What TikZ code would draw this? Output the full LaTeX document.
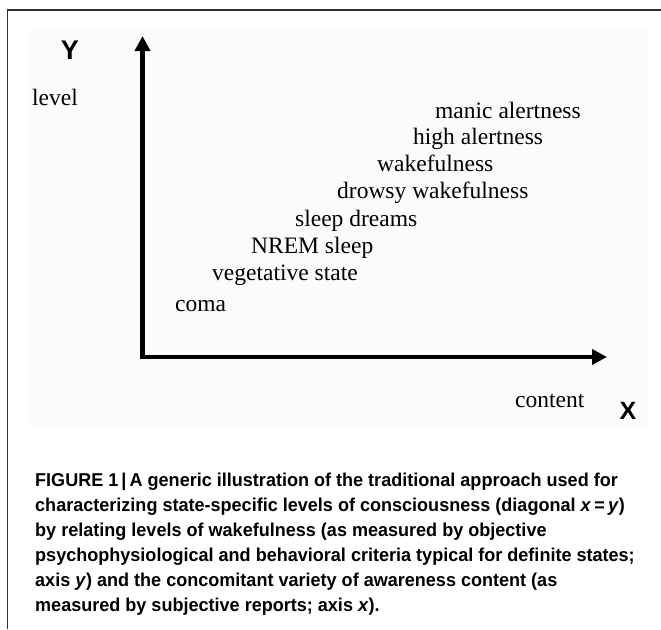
\documentclass[tikz,border=0pt]{standalone}
\usepackage{fontspec}
\setmainfont{Liberation Serif}
\newfontfamily\axfont{Liberation Sans}
\newfontfamily\capfont[FakeStretch=0.97]{Liberation Sans}
\usetikzlibrary{arrows.meta}
\begin{document}
\begin{tikzpicture}[x=1pt,y=-1pt,
  lbl/.style={anchor=base west,inner sep=0pt,font=\fontsize{23.5}{26}\selectfont},
  axlbl/.style={anchor=center,inner sep=0pt,font=\axfont\bfseries\fontsize{27}{30}\selectfont},
  capline/.style={anchor=base west,inner sep=0pt,font=\capfont\bfseries\fontsize{18.6}{20}\selectfont},
  axis/.style={line width=4.5pt,{Triangle[length=15pt,width=15pt]}-{Triangle[length=15pt,width=15pt]}}]
\useasboundingbox (0,0) rectangle (661,629);
% faint plot background
\fill[color={rgb,255:red,251;green,251;blue,251}] (27,30) rectangle (648,426);
% frame
\draw[line width=1.3pt,color={rgb,255:red,50;green,50;blue,50}] (7.5,629) -- (7.5,10) -- (661,10);
% axes
\coordinate (origin) at (142.5,357);
\coordinate (ytip) at (142.5,36);
\coordinate (xtip) at (607,357);
\draw[axis] (ytip) -- (origin) -- (xtip);
% axis labels
\node[axlbl] (Y) at (70,50) {Y};
\node[lbl] (level) at (32,105) {level};
\node[lbl] (content) at (515,407) {content};
\node[axlbl,font=\axfont\bfseries\fontsize{25}{28}\selectfont] (X) at (628,411) {X};
% states
\node[lbl] (manic) at (435,118) {manic alertness};
\node[lbl] (high) at (413,144) {high alertness};
\node[lbl] (wake) at (377,171) {wakefulness};
\node[lbl] (drowsy) at (337,198) {drowsy wakefulness};
\node[lbl] (dreams) at (295,226) {sleep dreams};
\node[lbl] (nrem) at (251,253) {NREM sleep};
\node[lbl] (veg) at (212,280) {vegetative state};
\node[lbl] (coma) at (175,311) {coma};
% caption
\node[capline] (c1) at (35,486) {FIGURE 1\,|\,A generic illustration of the traditional approach used for};
\node[capline] (c2) at (35,511) {characterizing state-specific levels of consciousness (diagonal \textit{x}\,=\,\textit{y})};
\node[capline] (c3) at (35,536) {by relating levels of wakefulness (as measured by objective};
\node[capline] (c4) at (35,561) {psychophysiological and behavioral criteria typical for definite states;};
\node[capline] (c5) at (35,586) {axis \textit{y}) and the concomitant variety of awareness content (as};
\node[capline] (c6) at (35,611) {measured by subjective reports; axis \textit{x}).};
\end{tikzpicture}
\end{document}
